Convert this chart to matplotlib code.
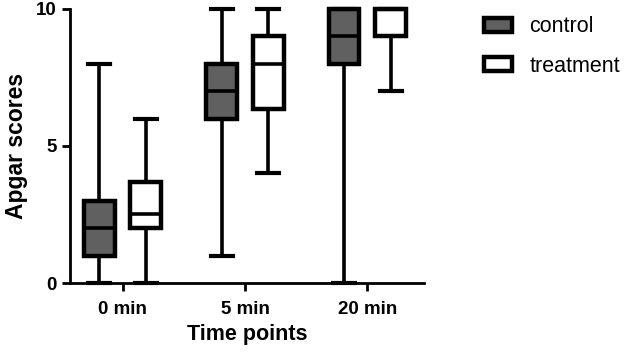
import matplotlib
matplotlib.use("Agg")
import matplotlib.pyplot as plt

plt.rcParams["font.family"] = ["Liberation Sans", "DejaVu Sans"]

TIMES = ["0 min", "5 min", "20 min"]
GROUPS = ["control", "treatment"]

# box stats, per time point
CTRL_LO = [0, 1, 0]
CTRL_Q1 = [1, 6, 8]
CTRL_MED = [2, 7, 9]
CTRL_Q3 = [3, 8, 10]
CTRL_HI = [8, 10, 10]

TRT_LO = [0, 4, 7]
TRT_Q1 = [2, 6.35, 9]
TRT_MED = [2.5, 8, 10]
TRT_Q3 = [3.7, 9, 10]
TRT_HI = [6, 10, 10]

FILLS = {"control": "#606060", "treatment": "white"}
OFFSET = 0.19
WIDTH = 0.25


def stats(lo, q1, med, q3, hi):
    return [{"whislo": a, "q1": b, "med": c, "q3": d, "whishi": e, "fliers": []}
            for a, b, c, d, e in zip(lo, q1, med, q3, hi)]


fig = plt.figure(figsize=(6.24, 3.56), dpi=100)
ax = fig.add_axes([0.112, 0.205, 0.567, 0.77])

series = {
    "control": stats(CTRL_LO, CTRL_Q1, CTRL_MED, CTRL_Q3, CTRL_HI),
    "treatment": stats(TRT_LO, TRT_Q1, TRT_MED, TRT_Q3, TRT_HI),
}

handles = []
for i, g in enumerate(GROUPS):
    pos = [k + (i * 2 - 1) * OFFSET for k in range(len(TIMES))]
    bp = ax.bxp(series[g], positions=pos, widths=WIDTH, patch_artist=True,
                showfliers=False, capwidths=0.18,
                boxprops=dict(facecolor=FILLS[g], edgecolor="black", linewidth=3.2),
                medianprops=dict(color="black", linewidth=2.6),
                whiskerprops=dict(color="black", linewidth=2.6),
                capprops=dict(color="black", linewidth=3.0))
    for artist in bp["boxes"] + bp["medians"] + bp["whiskers"] + bp["caps"]:
        artist.set_clip_on(False)
    handles.append(bp["boxes"][0])

ax.set_xlim(-0.43, 2.46)
ax.set_ylim(0, 10)
ax.set_yticks([0, 5, 10])
ax.set_xticks(range(len(TIMES)))
ax.set_xticklabels(TIMES)
for s in ["top", "right"]:
    ax.spines[s].set_visible(False)
for s in ["left", "bottom"]:
    ax.spines[s].set_linewidth(2)
ax.tick_params(axis="both", width=2, length=6, labelsize=13.5)
ax.tick_params(axis="x", pad=7)
for lab in ax.get_xticklabels() + ax.get_yticklabels():
    lab.set_fontweight("bold")
ax.set_xlabel("Time points", fontsize=15.5, fontweight="bold", labelpad=4)
ax.set_ylabel("Apgar scores", fontsize=16.5, fontweight="bold", labelpad=6)

leg = fig.legend(handles, GROUPS, loc="upper left", bbox_to_anchor=(0.755, 0.99),
                 frameon=False, fontsize=15.5, handlelength=1.3, handleheight=0.6,
                 handletextpad=0.8, labelspacing=0.85, borderaxespad=0.2)

fig.savefig("out.png", dpi=100)
